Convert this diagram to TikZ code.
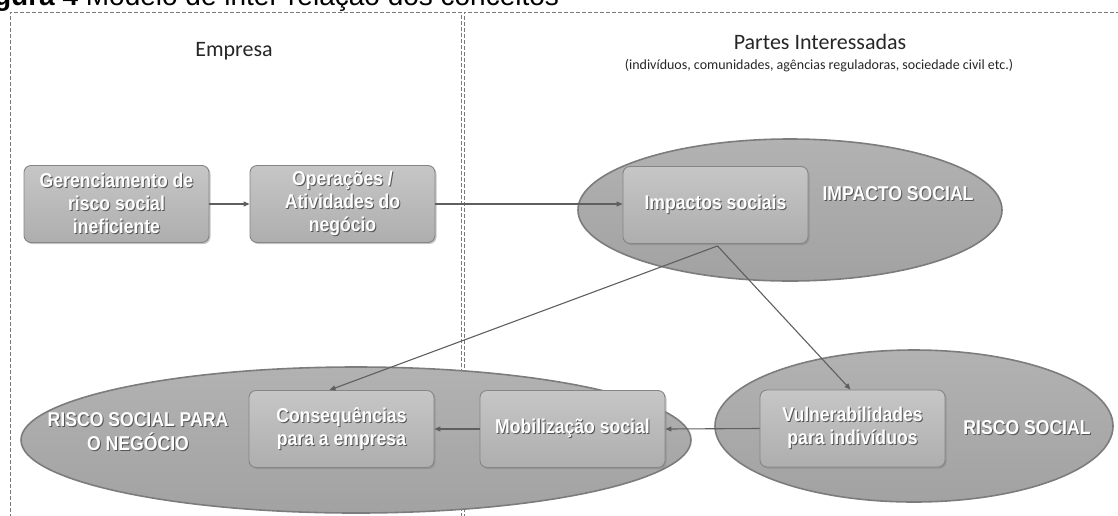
\documentclass[tikz,border=0pt]{standalone}
\usepackage{fontspec}
\setmainfont{Liberation Sans}
\newfontfamily\calib{Carlito}
\newfontfamily\narrowf[FakeStretch=0.88]{Liberation Sans}
\usetikzlibrary{shapes.geometric,arrows.meta,shadows,calc}
\definecolor{boxtop}{HTML}{C6C6C6}
\definecolor{boxbot}{HTML}{AEAEAE}
\definecolor{boxedge}{HTML}{858585}
\definecolor{elltop}{HTML}{B2B2B2}
\definecolor{ellbot}{HTML}{A2A2A2}
\definecolor{elledge}{HTML}{7C7C7C}
\definecolor{arrc}{HTML}{5F5F5F}
\definecolor{framec}{HTML}{7A7A7A}
\definecolor{txtsh}{HTML}{555555}
\definecolor{hdr}{HTML}{262626}
\newcommand\sht[1]{\leavevmode\rlap{\hspace{1pt}\raisebox{-1pt}{\textcolor{txtsh}{#1}}}#1}
\tikzset{
  framest/.style={draw=framec, line width=0.9pt, dash pattern=on 4pt off 2pt},
  boxst/.style={rectangle, rounded corners=7pt, minimum width=185pt, minimum height=77pt,
    top color=boxtop, bottom color=boxbot, draw=boxedge, line width=0.9pt,
    drop shadow={shadow xshift=1.5pt, shadow yshift=-1.5pt, opacity=0.45},
    text=white, font=\narrowf\bfseries\fontsize{20}{23}\selectfont, align=center, inner sep=0pt},
  lblst/.style={text=white, font=\narrowf\bfseries\fontsize{20}{24}\selectfont, align=center, inner sep=0pt},
  ellst/.style={ellipse, top color=elltop, bottom color=ellbot, draw=elledge, line width=1.6pt, inner sep=0pt},
  arr/.style={draw=arrc, line width=1.1pt, -{Triangle[length=6pt,width=5pt]}}
}
\begin{document}
\begin{tikzpicture}[x=1pt,y=-1pt]
\useasboundingbox (0,0) rectangle (1118,515);
\clip (0,0) rectangle (1118,515);
% title (cut at top, as in the reference)
\node[anchor=base west, inner sep=0pt, font=\fontsize{28}{30}\selectfont] (title) at (-31,5.5) {\textbf{Figura 4} Modelo de inter-relação dos conceitos};
% frames
\draw[framest] (10,530) -- (10,12) -- (461,12) -- (461,530);
\draw[framest] (464,530) -- (464,12) -- (1130,12);
% headers
\node[font=\calib\fontsize{22}{26}\selectfont, text=hdr] (emp) at (234,51) {Empresa};
\node[font=\calib\fontsize{22}{26}\selectfont, text=hdr] (partes) at (820,42) {Partes Interessadas};
\node[font=\calib\fontsize{14}{16}\selectfont, text=hdr] (sub) at (819,66) {(indivíduos, comunidades, agências reguladoras, sociedade civil etc.)};
% ellipses
\node[ellst, minimum width=424pt, minimum height=142pt] (eimp) at (790,210) {};
\node[ellst, minimum width=670pt, minimum height=146pt] (eneg) at (356,440) {};
\node[ellst, minimum width=398pt, minimum height=152pt] (eris) at (914,426) {};
% boxes
\node[boxst] (ger) at (116.5,204) {\sht{Gerenciamento de}\\\sht{risco social}\\\sht{ineficiente}};
\node[boxst] (ope) at (342.5,204) {\sht{Operações /}\\\sht{Atividades do}\\\sht{negócio}};
\node[boxst] (imp) at (715.5,205) {\sht{Impactos sociais}};
\node[boxst] (con) at (341.5,429) {\sht{Consequências}\\\sht{para a empresa}};
\node[boxst] (mob) at (572.5,429) {\sht{Mobilização social}};
\node[boxst] (vul) at (852.5,428.5) {\sht{Vulnerabilidades}\\\sht{para indivíduos}};
% ellipse labels
\node[lblst] (limp) at (898,194) {\sht{IMPACTO SOCIAL}};
\node[lblst] (lneg) at (138,432) {\sht{RISCO SOCIAL PARA}\\\sht{O NEGÓCIO}};
\node[lblst] (lris) at (1027,428) {\sht{RISCO SOCIAL}};
% connectors
\coordinate (apex) at ($(imp.south)+(2,2)$);
\draw[arr] (ger.east) -- (ope.west);
\draw[arr] (ope.east) -- (ope.east -| imp.west);
\draw[arr] (apex) -- ($(con.north)+(-12,0)$);
\draw[arr] (apex) -- ($(vul.north)+(-2,0)$);
\draw[arr] (vul.west) -- (mob.east);
\draw[arr] (mob.west) -- (con.east);
\end{tikzpicture}
\end{document}
